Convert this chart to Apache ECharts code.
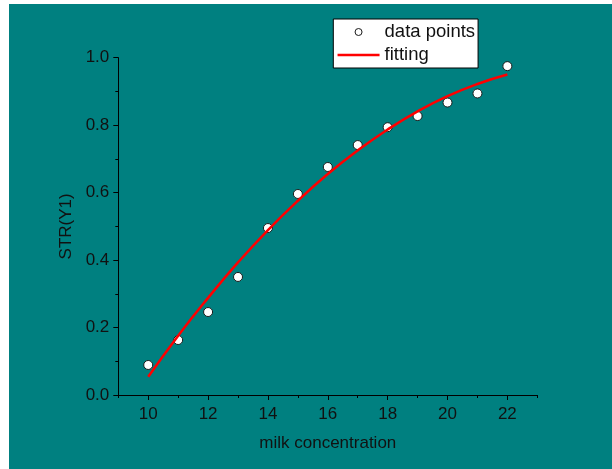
<!DOCTYPE html>
<html>
<head>
<meta charset="utf-8">
<script src="https://cdn.jsdelivr.net/npm/echarts@6/dist/echarts.min.js"></script>
<style>
  html, body { margin: 0; padding: 0; background: #ffffff; }
  #main { position: absolute; left: 9px; top: 4px; width: 603px; height: 465px; background: #008080; }
</style>
</head>
<body>
<div id="main"></div>
<script>
// milk concentration vs STR(Y1)
const concentration = [10, 11, 12, 13, 14, 15, 16, 17, 18, 19, 20, 21, 22];
const measured = [0.089, 0.163, 0.246, 0.350, 0.495, 0.596, 0.676, 0.741, 0.794, 0.827, 0.867, 0.894, 0.975];
const fitted = [0.054, 0.176, 0.288, 0.393, 0.489, 0.576, 0.655, 0.725, 0.787, 0.841, 0.886, 0.922, 0.950];
const xMajorTicks = [10, 12, 14, 16, 18, 20, 22];

const font = 'Liberation Sans, Arial, sans-serif';
const black = '#000000';

const chart = echarts.init(document.getElementById('main'), null, { renderer: 'canvas' });

// main plot area (pixels inside the teal page)
const gLeft = 109.3, gTop = 53.7, gRight = 74.7, gBottom = 74;
const unit = (603 - gLeft - gRight) / 14; // one x unit in px

const pointsData = concentration.map((x, i) => [x, measured[i]]);
const fitData = concentration.map((x, i) => [x, fitted[i]]);

chart.setOption({
  animation: false,
  backgroundColor: 'transparent',
  textStyle: { fontFamily: font, color: black },
  legend: {
    orient: 'vertical',
    left: 324.3,
    top: 15,
    padding: [3, 3, 3, 3],
    itemGap: 3,
    itemWidth: 42,
    itemHeight: 7,
    backgroundColor: '#ffffff',
    borderColor: black,
    borderWidth: 1,
    borderRadius: 0,
    textStyle: { fontFamily: font, fontSize: 18.5, color: '#111111', lineHeight: 20 },
    data: [
      { name: 'data points', itemStyle: { borderWidth: 1, borderColor: '#1a1a1a' } },
      { name: 'fitting', itemStyle: { opacity: 0 }, lineStyle: { color: '#ff0000', width: 2.5 } }
    ]
  },
  grid: [
    { left: gLeft, top: gTop, right: gRight, bottom: gBottom },
    { left: gLeft + unit, top: gTop, right: gRight + unit, bottom: gBottom }
  ],
  xAxis: [
    {
      type: 'value',
      gridIndex: 0,
      min: 9,
      max: 23,
      interval: 1,
      axisLine: { show: true, onZero: false, lineStyle: { color: black, width: 1 } },
      axisTick: { show: true, length: 3, lineStyle: { color: black } },
      axisLabel: { show: false },
      splitLine: { show: false }
    },
    {
      type: 'value',
      gridIndex: 1,
      min: xMajorTicks[0],
      max: xMajorTicks[xMajorTicks.length - 1],
      interval: 2,
      name: 'milk concentration',
      nameLocation: 'middle',
      nameGap: 40,
      nameTextStyle: { fontFamily: font, fontSize: 17, color: '#111111' },
      axisLine: { show: false },
      axisTick: { show: true, length: 5, lineStyle: { color: black } },
      axisLabel: { fontFamily: font, fontSize: 17, color: '#111111', margin: 11 },
      splitLine: { show: false }
    }
  ],
  yAxis: [
    {
      type: 'value',
      gridIndex: 0,
      min: 0,
      max: 1,
      interval: 0.2,
      name: 'STR(Y1)',
      nameLocation: 'middle',
      nameGap: 37,
      nameTextStyle: { fontFamily: font, fontSize: 17, color: '#111111' },
      axisLine: { show: true, onZero: false, lineStyle: { color: black, width: 1 } },
      axisTick: { show: true, length: 5, lineStyle: { color: black } },
      minorTick: { show: true, splitNumber: 2, length: 3, lineStyle: { color: black } },
      axisLabel: {
        fontFamily: font, fontSize: 17, color: '#111111', margin: 9,
        formatter: v => v.toFixed(1)
      },
      splitLine: { show: false }
    },
    {
      type: 'value',
      gridIndex: 1,
      min: 0,
      max: 1,
      show: false
    }
  ],
  series: [
    {
      name: 'data points',
      type: 'scatter',
      xAxisIndex: 0,
      yAxisIndex: 0,
      symbol: 'circle',
      symbolSize: 9,
      itemStyle: { color: '#ffffff', borderColor: '#1a1a1a', borderWidth: 1, opacity: 1 },
      data: pointsData,
      z: 3
    },
    {
      name: 'fitting',
      type: 'line',
      xAxisIndex: 0,
      yAxisIndex: 0,
      smooth: true,
      symbol: 'none',
      lineStyle: { color: '#ff0000', width: 2.5 },
      itemStyle: { color: '#ff0000' },
      data: fitData,
      z: 4
    }
  ]
});
</script>
</body>
</html>
